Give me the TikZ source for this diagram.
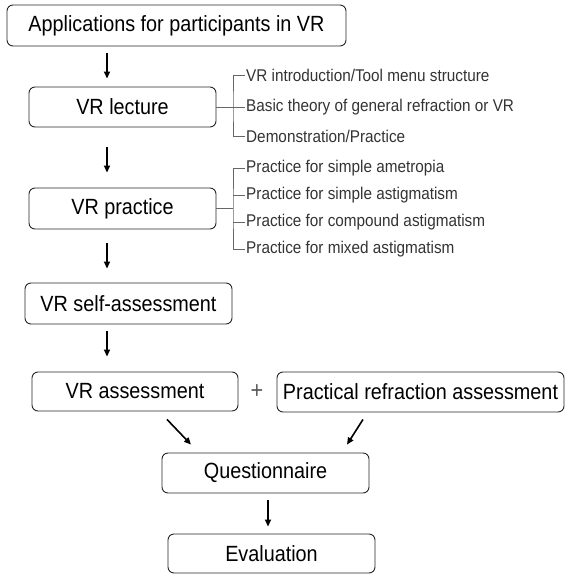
\documentclass[tikz,border=0pt]{standalone}
\usepackage{fontspec}
\setmainfont[FakeStretch=0.9]{Liberation Sans}
\usetikzlibrary{arrows.meta, positioning, calc}

\begin{document}
\begin{tikzpicture}[
    x=1pt, y=-1pt,
    box/.style={draw=black!85, line width=0.9pt, rounded corners=6pt, inner sep=0pt, font=\fontsize{22}{26}\selectfont},
    flow/.style={line width=1.6pt, -{Triangle[length=7pt, width=6pt]}},
    branch/.style={draw=black!60, line width=0.7pt},
    item/.style={anchor=west, inner sep=1pt, text=black!80, font=\fontsize{17}{19}\selectfont}
]
\useasboundingbox (0,0) rectangle (565,574);

% Main boxes
\node[box, minimum width=339pt, minimum height=41pt] (app) at (176.5,25.5) {Applications for participants in VR};
\node[box, minimum width=187pt, minimum height=40pt] (lecture) at (122.5,107) {VR lecture};
\node[box, minimum width=187pt, minimum height=41pt] (practice) at (122.5,208.5) {VR practice};
\node[box, minimum width=207pt, minimum height=41pt] (selfass) at (128.5,303.5) {VR self-assessment};
\node[box, minimum width=206pt, minimum height=39pt] (vrass) at (135,391.5) {VR assessment};
\node[box, minimum width=287pt, minimum height=40pt] (practical) at (420.5,392) {Practical refraction assessment};
\node[font=\fontsize{24}{26}\selectfont, text=black!65] (plus) at (257,392) {+};
\node[box, minimum width=207pt, minimum height=40pt] (quest) at (265.5,473) {Questionnaire};
\node[box, minimum width=207pt, minimum height=39pt] (eval) at (271.5,553.5) {Evaluation};

% Lecture contents
\coordinate (lj) at (233,107);
\node[item] (l1) at (245,75) {VR introduction/Tool menu structure};
\node[item] (l2) at (245,107) {Basic theory of general refraction or VR};
\node[item] (l3) at (245,136) {Demonstration/Practice};
\draw[branch] (lecture.east) -- (l2.west);
\draw[branch] (l1.west) -| (lj) |- (l3.west);

% Practice contents
\coordinate (pj) at (233,208.5);
\node[item] (p1) at (245,168.5) {Practice for simple ametropia};
\node[item] (p2) at (245,195.5) {Practice for simple astigmatism};
\node[item] (p3) at (245,222.5) {Practice for compound astigmatism};
\node[item] (p4) at (245,249.5) {Practice for mixed astigmatism};
\draw[branch] (practice.east) -- (pj);
\draw[branch] (p1.west) -| (pj) |- (p4.west);
\draw[branch] (p2.west) -- (p2.west -| pj);
\draw[branch] (p3.west) -- (p3.west -| pj);

% Flow arrows
\coordinate (col) at (107,0);
\draw[flow, shorten <=7pt, shorten >=8pt] (app.south -| col) -- (lecture.north -| col);
\draw[flow, shorten <=20pt, shorten >=15pt] (lecture.south -| col) -- (practice.north -| col);
\draw[flow, shorten <=14pt, shorten >=14pt] (practice.south -| col) -- (selfass.north -| col);
\draw[flow, shorten <=7pt, shorten >=15pt] (selfass.south -| col) -- (vrass.north -| col);
\draw[flow] ([shift={(32,8)}]vrass.south) -- ([shift={(-74.5,-8)}]quest.north);
\draw[flow] ([shift={(-57.5,7)}]practical.south) -- ([shift={(81.5,-8)}]quest.north);
\draw[flow, shorten <=7pt, shorten >=7pt] (quest.south -| 268,0) -- (eval.north -| 268,0);

\end{tikzpicture}
\end{document}
